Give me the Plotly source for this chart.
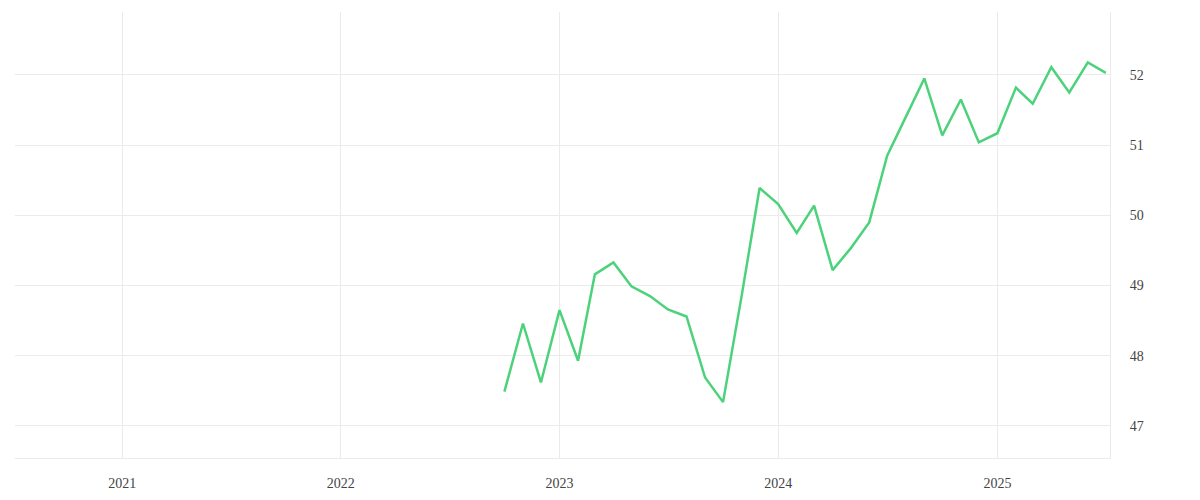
import plotly.graph_objects as go

dates = [
    "2022-10-01", "2022-11-01", "2022-12-01",
    "2023-01-01", "2023-02-01", "2023-03-01", "2023-04-01", "2023-05-01", "2023-06-01",
    "2023-07-01", "2023-08-01", "2023-09-01", "2023-10-01", "2023-11-01", "2023-12-01",
    "2024-01-01", "2024-02-01", "2024-03-01", "2024-04-01", "2024-05-01", "2024-06-01",
    "2024-07-01", "2024-08-01", "2024-09-01", "2024-10-01", "2024-11-01", "2024-12-01",
    "2025-01-01", "2025-02-01", "2025-03-01", "2025-04-01", "2025-05-01", "2025-06-01",
    "2025-07-01",
]
values = [
    47.49, 48.46, 47.62,
    48.65, 47.93, 49.16, 49.33, 48.99, 48.85,
    48.66, 48.56, 47.69, 47.34, 48.85, 50.39,
    50.16, 49.75, 50.14, 49.22, 49.53, 49.90,
    50.85, 51.40, 51.95, 51.14, 51.65, 51.04,
    51.17, 51.82, 51.59, 52.11, 51.75, 52.18,
    52.03,
]
x_ticks = ["2021-01-01", "2022-01-01", "2023-01-01", "2024-01-01", "2025-01-01"]
x_tick_labels = ["2021", "2022", "2023", "2024", "2025"]
y_ticks = [47, 48, 49, 50, 51, 52]

fig = go.Figure()
fig.add_trace(go.Scatter(
    x=dates, y=values, mode="lines",
    line=dict(color="#4cd27b", width=2.5),
    hoverinfo="x+y", showlegend=False,
))

font_family = "Liberation Serif"
fig.update_layout(
    width=1200, height=500,
    margin=dict(l=7, r=98, t=4, b=50),
    paper_bgcolor="white", plot_bgcolor="white",
    font=dict(family=font_family, size=14, color="#444"),
    xaxis=dict(
        type="date",
        range=["2020-07-06", "2025-07-08"],
        tickvals=x_ticks, ticktext=x_tick_labels,
        showgrid=True, gridcolor="#ebebeb", gridwidth=1,
        showline=True, linecolor="#ebebeb", linewidth=1,
        zeroline=False, ticks="", ticklabelstandoff=12,
    ),
    yaxis=dict(
        side="right",
        range=[46.544, 52.897],
        tickvals=y_ticks,
        showgrid=True, gridcolor="#ebebeb", gridwidth=1,
        showline=True, linecolor="#ebebeb", linewidth=1,
        zeroline=False, ticks="", ticklabelstandoff=16,
    ),
)

fig.write_html("out.html")
